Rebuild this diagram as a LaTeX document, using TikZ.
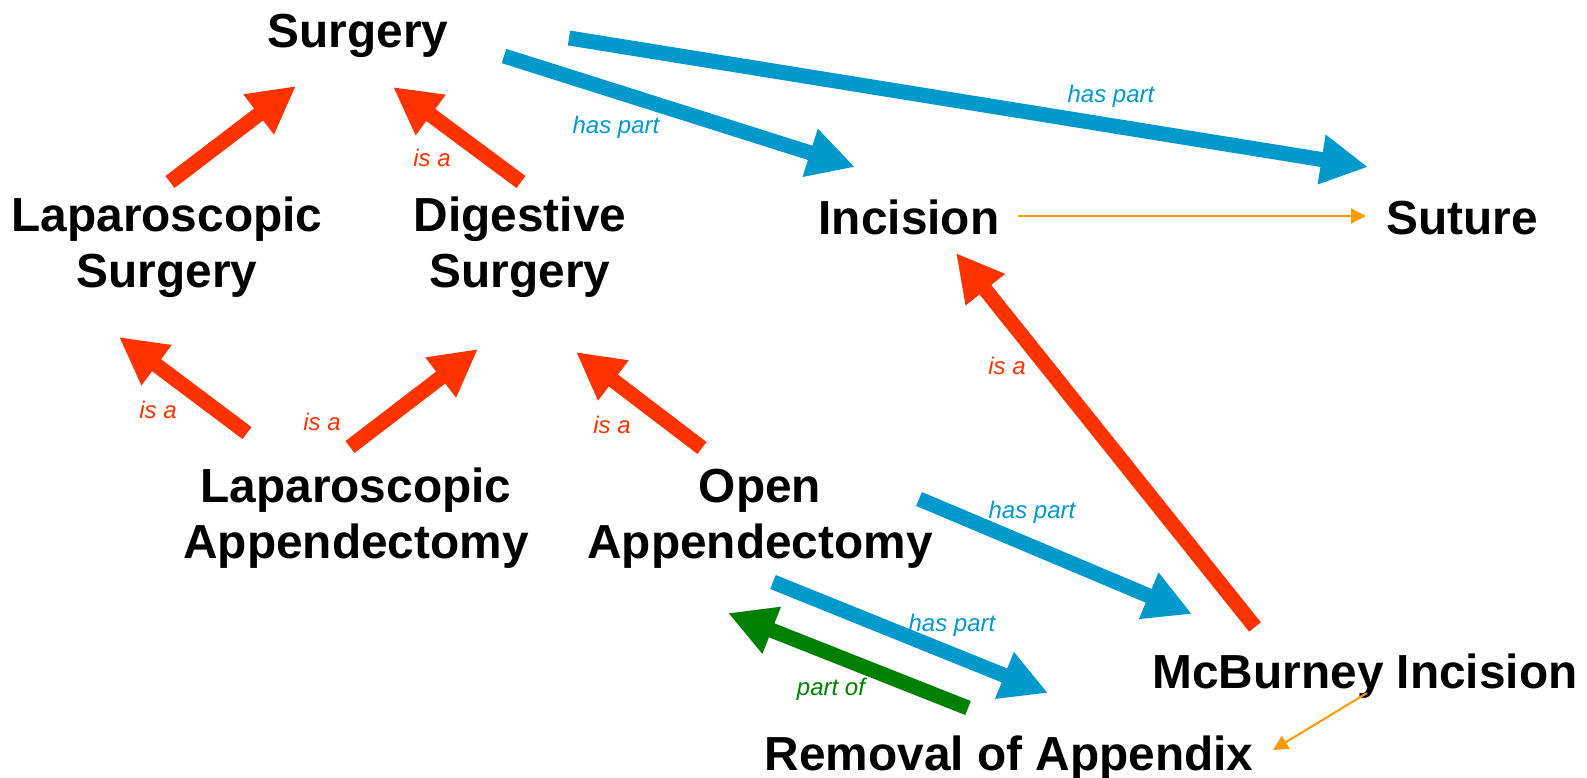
\documentclass[tikz,border=0pt]{standalone}
\usepackage{fontspec}
\setmainfont{Liberation Sans}
\usetikzlibrary{arrows.meta}
\definecolor{isared}{HTML}{FF3300}
\definecolor{partblue}{HTML}{0099CC}
\definecolor{ofgreen}{HTML}{008000}
\definecolor{linkorange}{HTML}{FF9900}
\tikzset{
  concept/.style={inner sep=0pt, align=center, anchor=base,
                  font=\fontsize{47.8}{55.5}\selectfont\bfseries},
  rel/.style={-{Triangle[length=47pt,width=47pt]}, line width=15pt, draw=#1},
  seq/.style={-{Triangle[length=15pt,width=15pt]}, line width=2pt, draw=linkorange},
  lbl/.style={inner sep=0pt, anchor=base, text=#1,
              font=\fontsize{24}{28}\selectfont\itshape},
}

\begin{document}
\begin{tikzpicture}[x=1pt,y=1pt]
  \useasboundingbox (0,0) rectangle (1587,-778);
  % concepts (base = last line)
  \node[concept] (surg) at (358,-48) {Surgery};
  \node[concept] (lapsurg) at (167,-287) {Laparoscopic\\Surgery};
  \node[concept] (digsurg) at (520,-287) {Digestive\\Surgery};
  \node[concept] (inc) at (909,-234) {Incision};
  \node[concept] (sut) at (1462,-234) {Suture};
  \node[concept] (lapapp) at (356,-558) {Laparoscopic\\Appendectomy};
  \node[concept] (openapp) at (760,-558) {Open\\Appendectomy};
  \node[concept] (mcb) at (1365,-688) {McBurney Incision};
  \node[concept] (rem) at (1009,-770) {Removal of Appendix};
  % relations
  \draw[rel=isared] ([shift={(3,105)}]lapsurg.base) -- ([shift={(-62,-38)}]surg.base);
  \draw[rel=isared] ([shift={(1,105)}]digsurg.base) -- ([shift={(35,-39)}]surg.base);
  \draw[rel=partblue] ([shift={(146,-8)}]surg.base) -- ([shift={(-54,67)}]inc.base);
  \draw[rel=partblue] ([shift={(211,10)}]surg.base) -- ([shift={(-94,67)}]sut.base);
  \draw[seq] ([shift={(109,18)}]inc.base) -- ([shift={(-96,18)}]sut.base);
  \draw[rel=isared] ([shift={(-109,125)}]lapapp.base) -- ([shift={(-48,-50)}]lapsurg.base);
  \draw[rel=isared] ([shift={(-6,111)}]lapapp.base) -- ([shift={(-42,-62)}]digsurg.base);
  \draw[rel=isared] ([shift={(-58,110)}]openapp.base) -- ([shift={(56,-65)}]digsurg.base);
  \draw[rel=isared] ([shift={(-110,61)}]mcb.base) -- ([shift={(47,-19)}]inc.base);
  \draw[rel=partblue] ([shift={(159,59)}]openapp.base) -- ([shift={(-173,74)}]mcb.base);
  \draw[rel=partblue] ([shift={(13,-24)}]openapp.base) -- ([shift={(39,77)}]rem.base);
  \draw[rel=ofgreen] ([shift={(-41,62)}]rem.base) -- ([shift={(-32,-55)}]openapp.base);
  \draw[seq] ([shift={(2,-5)}]mcb.base) -- ([shift={(264,20)}]rem.base);
  % labels
  \node[lbl=isared] (isadig) at (432,-167) {is a};
  \node[lbl=partblue] (hpinc) at (616,-134) {has part};
  \node[lbl=partblue] (hpsut) at (1111,-103) {has part};
  \node[lbl=isared] (isalap) at (158,-418) {is a};
  \node[lbl=isared] (isalapdig) at (322,-430) {is a};
  \node[lbl=isared] (isaopen) at (612,-433) {is a};
  \node[lbl=isared] (isamcb) at (1007,-374) {is a};
  \node[lbl=partblue] (hpmcb) at (1032,-518) {has part};
  \node[lbl=partblue] (hprem) at (952,-631) {has part};
  \node[lbl=ofgreen] (porem) at (831,-695) {part of};
\end{tikzpicture}
\end{document}
